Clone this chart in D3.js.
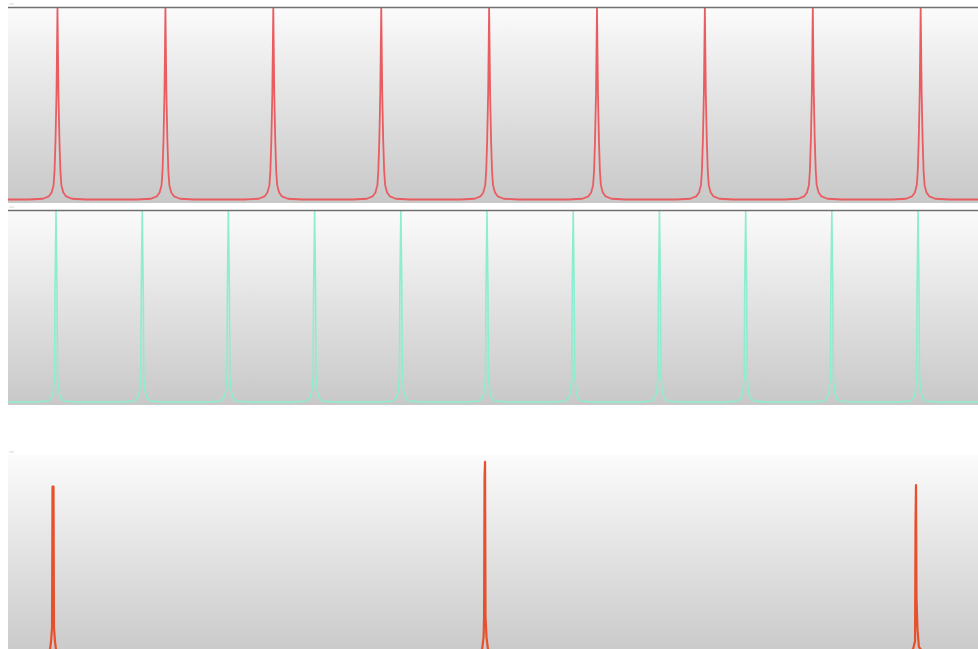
<!DOCTYPE html>
<html>
<head>
<meta charset="utf-8">
<script src="https://cdn.jsdelivr.net/npm/d3@7"></script>
<style>
  body { margin: 0; background: #fff; }
  svg { display: block; }
</style>
</head>
<body>
<script>
// time axis (ms) shared by all three traces
var timeDomain = [0, 1000];

// top trace: peak times, peak heights, one peak shape [offset ms, fraction]
var topPeakTimes = [51.0, 162.3, 273.5, 384.8, 496.0, 607.2, 718.4, 829.7, 940.9];
var topPeakHeights = [1, 1, 1, 1, 1, 1, 1, 1, 1];
var topProfile = [[-30, 0], [-15, 0.004], [-9, 0.016], [-6, 0.037], [-4, 0.075], [-3, 0.15],
    [-2, 0.31], [-1, 0.555], [0, 1], [1, 0.555], [2, 0.31], [3, 0.15], [4, 0.075],
    [6, 0.037], [9, 0.016], [15, 0.004], [30, 0]];

// middle trace
var midPeakTimes = [49.5, 138.4, 227.2, 316.1, 405.0, 493.8, 582.7, 671.6, 760.5, 849.3, 938.2];
var midPeakHeights = [1, 1, 1, 1, 1, 1, 1, 1, 1, 1, 1];
var midProfile = [[-20, 0], [-8, 0.005], [-5, 0.02], [-3, 0.05], [-1.5, 0.13], [-1, 0.6],
    [0, 1], [1, 0.6], [1.5, 0.13], [3, 0.05], [5, 0.02], [8, 0.005], [20, 0]];

// bottom trace: three peaks, each with its own sampled shape
var lowPeakTimes = [46.4, 491.8, 936.1];
var lowPeakHeights = [1, 1, 1];
var lowProfiles = [
    [[-8, 0], [-3, 0.02], [-2, 0.06], [-1, 0.13], [-0.5, 0.84], [0.5, 0.84], [1, 0.13], [2, 0.06], [3, 0.02], [8, 0]],
    [[-8, 0], [-3, 0.02], [-1.5, 0.08], [-1, 0.18], [-0.5, 0.894], [0, 0.965], [0.5, 0.18], [1.5, 0.08], [3, 0.02], [8, 0]],
    [[-8, 0], [-3, 0.02], [-1, 0.06], [-0.5, 0.657], [0, 0.848], [0.5, 0.283], [1.5, 0.12], [3, 0.03], [8, 0]]
];

var width = 978, height = 649;

var svg = d3.select("body").append("svg")
    .attr("width", width)
    .attr("height", height);

var defs = svg.append("defs");
var grad = defs.append("linearGradient")
    .attr("id", "bg")
    .attr("x1", 0).attr("y1", 0)
    .attr("x2", 0).attr("y2", 1);
grad.append("stop").attr("offset", "0%").attr("stop-color", "#fbfbfb");
grad.append("stop").attr("offset", "45%").attr("stop-color", "#e4e4e4");
grad.append("stop").attr("offset", "100%").attr("stop-color", "#c8c8c8");

var x = d3.scaleLinear().domain(timeDomain).range([8, 978]);

function buildSeries(times, heights, profiles) {
    var pts = [[timeDomain[0], 0]];
    times.forEach(function (t, i) {
        var prof = Array.isArray(profiles[0][0]) ? profiles[i] : profiles;
        prof.forEach(function (p) {
            pts.push([t + p[0], heights[i] * p[1]]);
        });
    });
    pts.push([timeDomain[1], 0]);
    return pts;
}

function panel(id, top, bottom, baseline, peakTop, series, color, lineWidth, topLine) {
    var g = svg.append("g").attr("class", "panel-" + id);
    var y = d3.scaleLinear().domain([0, 1]).range([baseline, peakTop]);

    defs.append("clipPath").attr("id", "clip-" + id)
        .append("rect")
        .attr("x", 8).attr("y", top)
        .attr("width", width - 8).attr("height", bottom - top);

    g.append("rect")
        .attr("x", 8).attr("y", top)
        .attr("width", width - 8).attr("height", bottom - top)
        .attr("fill", "url(#bg)");

    // faint tick at the top of the value axis
    g.append("line")
        .attr("x1", 9).attr("x2", 14)
        .attr("y1", top - 3).attr("y2", top - 3)
        .style("stroke", "#d8d8d8")
        .style("stroke-width", 1);

    var line = d3.line()
        .x(function (d) { return x(d[0]); })
        .y(function (d) { return y(d[1]); });

    g.append("path")
        .datum(series)
        .attr("d", line)
        .attr("clip-path", "url(#clip-" + id + ")")
        .style("fill", "none")
        .style("stroke", color)
        .style("stroke-width", lineWidth)
        .style("stroke-linejoin", "round");

    if (topLine) {
        g.append("line")
            .attr("x1", 8).attr("x2", width)
            .attr("y1", top + 0.5).attr("y2", top + 0.5)
            .style("stroke", "#707070")
            .style("stroke-width", 1.6);
    }
}

panel("top", 7, 203, 199.5, 8, buildSeries(topPeakTimes, topPeakHeights, topProfile), "#e95c60", 1.8, true);
panel("mid", 210, 405, 402, 211, buildSeries(midPeakTimes, midPeakHeights, midProfile), "#8cedd0", 1.6, true);
panel("low", 455, 660, 653, 455, buildSeries(lowPeakTimes, lowPeakHeights, lowProfiles), "#e6502c", 2.2, false);
</script>
</body>
</html>
